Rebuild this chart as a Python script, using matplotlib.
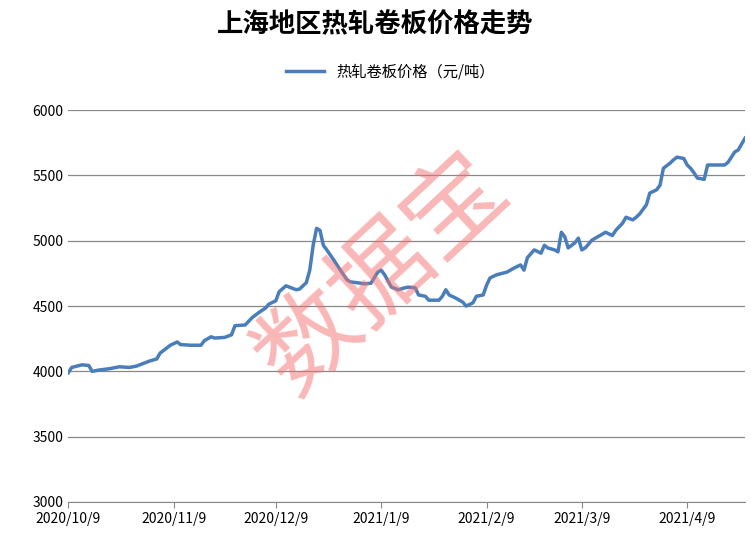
import datetime as dt
import matplotlib
matplotlib.use("Agg")
import matplotlib.pyplot as plt

plt.rcParams['font.family'] = ['Noto Sans CJK SC', 'DejaVu Sans']

start = dt.date(2020, 10, 9)
day_offsets = [0, 1, 4, 6, 7, 9, 12, 15, 18, 20, 22, 24, 26, 27, 30, 32, 33, 36, 39, 40,
               42, 43, 46, 48, 49, 52, 54, 56, 58, 59, 61, 62, 64, 65, 67, 68, 70, 71, 72, 73,
               74, 75, 76, 78, 80, 82, 83, 86, 87, 89, 91, 92, 93, 95, 97, 99, 100, 102, 103, 105,
               106, 109, 110, 111, 112, 114, 116, 117, 119, 120, 122, 123, 124, 126, 129, 131, 133, 134, 135, 137,
               139, 140, 141, 143, 144, 145, 146, 147, 149, 150, 151, 152, 154, 156, 158, 160, 161, 163, 164, 166,
               167, 168, 170, 171, 173, 174, 175, 177, 178, 179, 181, 182, 183, 184, 185, 187, 188, 190, 193, 194,
               196, 197, 199]
prices = [3990, 4030, 4050, 4045, 4000, 4010, 4020, 4035, 4030, 4040, 4060, 4080, 4095, 4140, 4200, 4225, 4205, 4200, 4200, 4235,
          4265, 4255, 4260, 4280, 4350, 4355, 4410, 4450, 4485, 4515, 4540, 4610, 4655, 4645, 4625, 4630, 4680, 4775, 4965, 5095,
          5080, 4965, 4930, 4855, 4775, 4700, 4685, 4675, 4670, 4675, 4760, 4775, 4740, 4645, 4625, 4640, 4645, 4640, 4585, 4575,
          4545, 4545, 4575, 4625, 4585, 4560, 4530, 4500, 4525, 4575, 4585, 4660, 4715, 4740, 4760, 4790, 4815, 4775, 4870, 4930,
          4905, 4965, 4945, 4930, 4915, 5065, 5030, 4945, 4985, 5020, 4930, 4945, 5005, 5035, 5065, 5040, 5080, 5135, 5180, 5160,
          5180, 5205, 5275, 5365, 5390, 5425, 5555, 5595, 5620, 5640, 5630, 5580, 5555, 5520, 5480, 5470, 5580, 5580, 5580, 5600,
          5680, 5695, 5785]
dates = [start + dt.timedelta(days=d) for d in day_offsets]
tick_dates = [dt.date(2020, 10, 9), dt.date(2020, 11, 9), dt.date(2020, 12, 9), dt.date(2021, 1, 9),
              dt.date(2021, 2, 9), dt.date(2021, 3, 9), dt.date(2021, 4, 9)]
tick_labels = ['2020/10/9', '2020/11/9', '2020/12/9', '2021/1/9', '2021/2/9', '2021/3/9', '2021/4/9']

fig = plt.figure(figsize=(7.51, 5.48), dpi=100)
ax = fig.add_axes([0.091, 0.084, 0.901, 0.715])
ax.plot(dates, prices, color='#4a7ebb', lw=2.5, label='热轧卷板价格（元/吨）')
ax.set_xlim(start, start + dt.timedelta(days=199))
ax.set_ylim(3000, 6000)
ax.set_yticks(range(3000, 6001, 500))
ax.set_xticks(tick_dates)
ax.set_xticklabels(tick_labels, fontsize=10)
ax.tick_params(axis='y', labelsize=10, length=0)
ax.tick_params(axis='x', length=4, color='#888888')
ax.grid(axis='y', color='#888888', lw=0.9)
for s in ['top', 'right', 'left']:
    ax.spines[s].set_visible(False)
ax.spines['bottom'].set_color('#888888')
ax.set_axisbelow(True)

fig.text(0.5, 0.955, '上海地区热轧卷板价格走势', ha='center', va='center', fontsize=19, fontweight='bold')
fig.legend(loc='center', bbox_to_anchor=(0.52, 0.868), frameon=False, fontsize=11, handlelength=2.5)
fig.text(0.51, 0.5, '数据宝', ha='center', va='center', fontsize=72, fontweight='light',
         color='#f47070', alpha=0.5, rotation=43)

fig.savefig('out.png')
